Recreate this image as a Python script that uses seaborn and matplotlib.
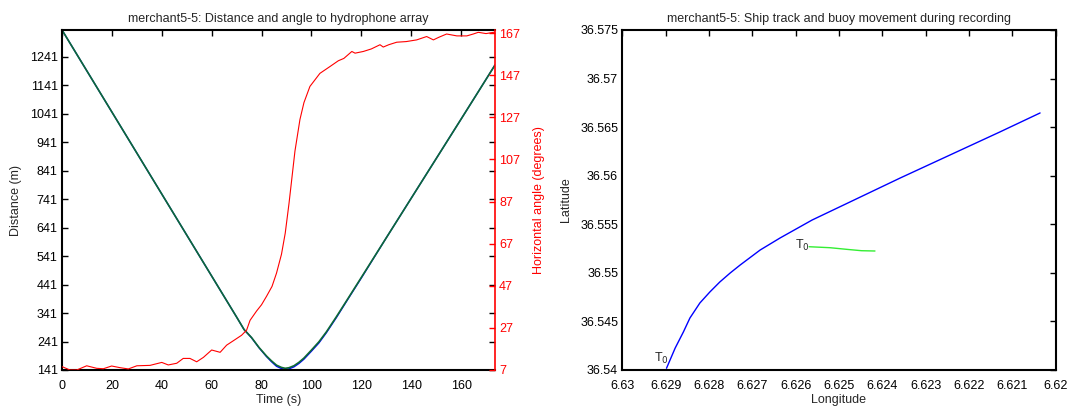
import numpy as np
import pandas as pd
import matplotlib
matplotlib.use("Agg")
import matplotlib.pyplot as plt
import seaborn as sns

# ---------------- data ----------------
time_s = [0, 10, 20, 30, 40, 50, 60, 65, 70, 73, 76, 79, 82, 84, 86, 88, 89.5, 91, 93, 95,
          97, 100, 103, 106, 110, 114, 120, 130, 140, 150, 160, 167.6, 173.6]
dist_green = [1335, 1191, 1047, 903, 759, 615, 471, 399, 327, 283, 255, 220, 190, 173, 158, 150,
              147, 149, 156, 168, 183, 211, 240, 275, 328, 383, 466, 605, 744, 883, 1022, 1128, 1212]
dist_blue = [1335, 1191, 1047, 903, 759, 615, 471, 399, 327, 283, 254, 219, 188, 170, 154, 146,
             143, 145, 152, 164, 179, 207, 236, 272, 325, 381, 464, 605, 744, 883, 1022, 1128, 1212]

angle_t = [0, 3.2, 5.9, 9.9, 13.9, 16.6, 19.9, 23.3, 26.6, 30, 35.3, 40, 42.6, 46, 48.6, 51.3,
           54, 56.7, 60, 63.4, 66, 68.7, 72, 74, 75.4, 78, 80, 82, 84.2, 86, 88, 89.5, 91, 93.4,
           95.4, 97, 99.4, 103.4, 107.5, 110.8, 113, 116.2, 117.5, 120.8, 124, 127.5, 128.8, 131,
           134.2, 138, 142.2, 146.2, 148.9, 151, 154.2, 158.3, 162.3, 164.9, 166.9, 170, 173.6]
angle_deg = [8.6, 7, 7, 9.0, 7.8, 7.6, 8.9, 8.1, 7.5, 9.0, 9.2, 10.6, 9.4, 10.2, 12.5, 12.5,
             10.9, 13, 16.5, 15.4, 18.8, 20.9, 23.5, 25.9, 30.6, 35, 38, 42, 46.7, 53, 62, 72,
             86, 111, 126, 134, 141.7, 147.9, 151.2, 153.9, 155, 158.3, 157.5, 158.3, 159.5,
             161.5, 160.4, 161.5, 162.7, 163, 163.8, 165.4, 163.8, 165, 166.6, 165.7, 165.7,
             166.6, 167.4, 166.8, 167.5]

ship_lon = [6.62898, 6.62878, 6.62859, 6.62844, 6.62821, 6.62798, 6.62775, 6.62751, 6.62728,
            6.62682, 6.62636, 6.62562, 6.62475, 6.62359, 6.62244, 6.62129, 6.62036]
ship_lat = [36.54018, 36.54226, 36.54392, 36.54535, 36.5469, 36.54803, 36.54906, 36.54999,
            36.55081, 36.55235, 36.55359, 36.55544, 36.55729, 36.55976, 36.56213, 36.5645, 36.56646]

buoy_lon = [6.62569, 6.62521, 6.62482, 6.62448, 6.62417]
buoy_lat = [36.55269, 36.55259, 36.55242, 36.55228, 36.55225]

dist_ticks = [141, 241, 341, 441, 541, 641, 741, 841, 941, 1041, 1141, 1241]
angle_ticks = [7, 27, 47, 67, 87, 107, 127, 147, 167]
time_ticks = [0, 20, 40, 60, 80, 100, 120, 140, 160]
lon_ticks = [6.63, 6.629, 6.628, 6.627, 6.626, 6.625, 6.624, 6.623, 6.622, 6.621, 6.62]
lon_labels = ["6.63", "6.629", "6.628", "6.627", "6.626", "6.625", "6.624", "6.623", "6.622", "6.621", "6.62"]
lat_ticks = [36.54, 36.545, 36.55, 36.555, 36.56, 36.565, 36.57, 36.575]
lat_labels = ["36.54", "36.545", "36.55", "36.555", "36.56", "36.565", "36.57", "36.575"]

# ---------------- style ----------------
sns.set_style("white")
plt.rcParams["font.family"] = ["Liberation Sans", "DejaVu Sans"]
plt.rcParams["font.size"] = 9

fig = plt.figure(figsize=(10.69, 4.07), dpi=100)
W, H = 1069, 407
def rect(l, t, r, b):
    return [l / W, (H - b) / H, (r - l) / W, (b - t) / H]

ax1 = fig.add_axes(rect(62, 30, 495, 370))
ax2 = ax1.twinx()
ax3 = fig.add_axes(rect(622.3, 30, 1055.7, 370))

df_d = pd.DataFrame({"t": time_s, "green": dist_green, "blue": dist_blue})
df_a = pd.DataFrame({"t": angle_t, "angle": angle_deg})

sns.lineplot(data=df_d, x="t", y="blue", ax=ax1, color="#0000ff", lw=1.0, estimator=None, sort=False)
sns.lineplot(data=df_d, x="t", y="green", ax=ax1, color="#0e6b35", lw=1.2, estimator=None, sort=False)
sns.lineplot(data=df_a, x="t", y="angle", ax=ax2, color="#ff0000", lw=0.8, estimator=None, sort=False)

ax1.set_xlim(0, 173.6)
ax1.set_ylim(141, 1335)
ax2.set_ylim(7, 168.5)
ax1.set_xticks(time_ticks)
ax1.set_yticks(dist_ticks)
ax2.set_yticks(angle_ticks)
ax1.set_xlabel("Time (s)", fontsize=9, labelpad=2)
ax1.set_ylabel("Distance (m)", fontsize=9, labelpad=6)
ax2.set_ylabel("Horizontal angle (degrees)", fontsize=9, color="#ff0000", labelpad=9)
ax1.set_title("merchant5-5: Distance and angle to hydrophone array", fontsize=9, pad=6)

for sp in ["left", "bottom", "top"]:
    ax1.spines[sp].set_color("black")
    ax1.spines[sp].set_linewidth(1.5)
ax1.spines["right"].set_visible(False)
ax2.spines["left"].set_visible(False)
ax2.spines["top"].set_visible(False)
ax2.spines["bottom"].set_visible(False)
ax2.spines["right"].set_color("#ff0000")
ax2.spines["right"].set_linewidth(1.2)
ax1.tick_params(axis="both", direction="in", length=4, width=1, top=True, right=True,
                labelsize=9, colors="black", pad=3)
ax1.tick_params(axis="x", pad=7)
ax2.tick_params(axis="y", direction="in", length=4, width=1, colors="#ff0000", labelsize=9, pad=3)

# right panel
df_s = pd.DataFrame({"lon": ship_lon, "lat": ship_lat})
df_b = pd.DataFrame({"lon": buoy_lon, "lat": buoy_lat})
sns.lineplot(data=df_s, x="lon", y="lat", ax=ax3, color="#0000ff", lw=1.0, estimator=None, sort=False)
sns.lineplot(data=df_b, x="lon", y="lat", ax=ax3, color="#33ee33", lw=1.0, estimator=None, sort=False)
ax3.set_xlim(6.63, 6.62)
ax3.set_ylim(36.54, 36.575)
ax3.set_xticks(lon_ticks)
ax3.set_xticklabels(lon_labels)
ax3.set_yticks(lat_ticks)
ax3.set_yticklabels(lat_labels)
ax3.set_xlabel("Longitude", fontsize=9, labelpad=2)
ax3.set_ylabel("Latitude", fontsize=9, labelpad=6)
ax3.set_title("merchant5-5: Ship track and buoy movement during recording", fontsize=9, pad=6)
for sp in ax3.spines.values():
    sp.set_color("black")
    sp.set_linewidth(1.5)
ax3.tick_params(axis="both", direction="in", length=4, width=1, top=True, right=True,
                labelsize=9, colors="black", pad=3)
ax3.tick_params(axis="x", pad=7)
ax3.text(6.62927, 36.54124, "T$_0$", fontsize=9, ha="left", va="center")
ax3.text(6.62602, 36.55287, "T$_0$", fontsize=9, ha="left", va="center")

fig.savefig("out.png", dpi=100)
